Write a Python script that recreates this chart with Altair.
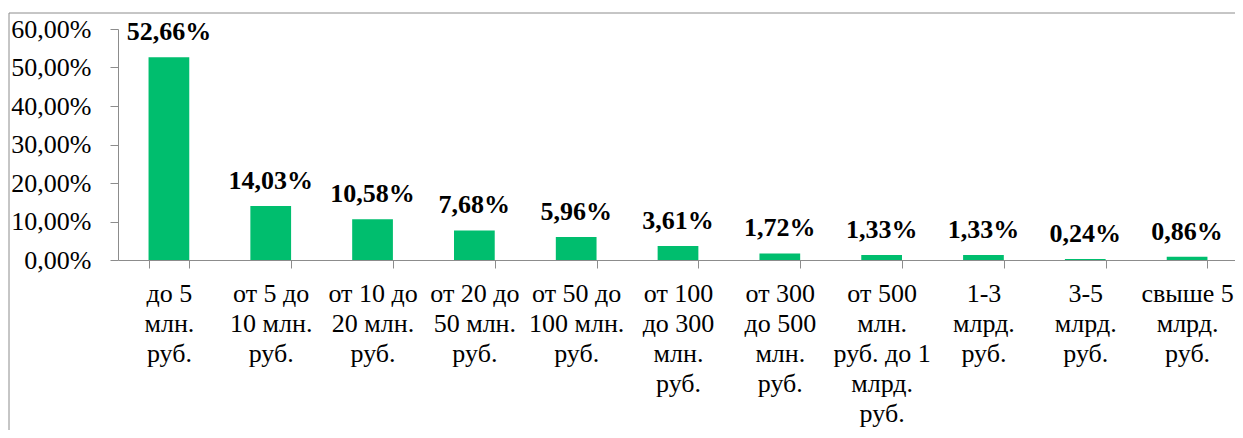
import altair as alt
import pandas as pd

categories = [
    "до 5\nмлн.\nруб.",
    "от 5 до\n10 млн.\nруб.",
    "от 10 до\n20 млн.\nруб.",
    "от 20 до\n50 млн.\nруб.",
    "от 50 до\n100 млн.\nруб.",
    "от 100\nдо 300\nмлн.\nруб.",
    "от 300\nдо 500\nмлн.\nруб.",
    "от 500\nмлн.\nруб. до 1\nмлрд.\nруб.",
    "1-3\nмлрд.\nруб.",
    "3-5\nмлрд.\nруб.",
    "свыше 5\nмлрд.\nруб.",
]
values = [52.66, 14.03, 10.58, 7.68, 5.96, 3.61, 1.72, 1.33, 1.33, 0.24, 0.86]
y_ticks = [0, 10, 20, 30, 40, 50, 60]

df = pd.DataFrame({"cat": categories, "value": values})

FONT = "Liberation Serif"
GRAY = "#8c8c8c"
GREEN = "#00BE6E"

x_enc = alt.X(
    "cat:N",
    sort=categories,
    title=None,
    scale=alt.Scale(paddingInner=0.6, paddingOuter=0.3, range=[0, 1120]),
    axis=alt.Axis(
        labelAngle=0,
        labelExpr="split(datum.label, '\\n')",
        labelFont=FONT,
        labelFontSize=26,
        labelColor="black",
        labelLineHeight=30,
        labelPadding=12,
        labelBaseline="top",
        labelAlign="center",
        tickBand="extent",
        tickSize=8,
        tickColor=GRAY,
        domainColor=GRAY,
        labelOverlap=False,
        labelBound=False,
        labelLimit=0,
    ),
)
y_enc = alt.Y(
    "value:Q",
    title=None,
    scale=alt.Scale(domain=[0, 60], nice=False),
    axis=alt.Axis(
        values=y_ticks,
        labelExpr="replace(format(datum.value, '.2f'), '.', ',') + '%'",
        labelFont=FONT,
        labelFontSize=26,
        labelColor="black",
        labelPadding=19,
        labelOverlap=False,
        labelLimit=0,
        tickSize=8,
        tickColor=GRAY,
        domainColor=GRAY,
        grid=False,
    ),
)

base = alt.Chart(df)
bars = base.mark_bar(color=GREEN).encode(x=x_enc, y=y_enc)
labels = base.transform_calculate(
    lbl="replace(format(datum.value, '.2f'), '.', ',') + '%'"
).mark_text(
    font=FONT, fontSize=26, fontWeight="bold", color="black",
    baseline="alphabetic", dy=-17, align="center"
).encode(x=x_enc, y=y_enc, text="lbl:N")

one = pd.DataFrame({"a": [0]})
top_border = alt.Chart(one).mark_rule(color=GRAY, strokeWidth=1, clip=False).encode(
    x=alt.value(-109), x2=alt.value(1140), y=alt.value(-16)
)
left_border = alt.Chart(one).mark_rule(color=GRAY, strokeWidth=1, clip=False).encode(
    x=alt.value(-109), y=alt.value(-16), y2=alt.value(500)
)

chart = alt.layer(bars, labels, top_border, left_border).properties(
    width=1117,
    height=231,
    autosize=alt.AutoSizeParams(type="none"),
    padding={"left": 110, "top": 21, "right": 0, "bottom": 170},
).configure_view(strokeWidth=0).configure_axis(labelOverlap=False)

chart.save("out.html", embed_options={"renderer": "svg", "actions": False})
